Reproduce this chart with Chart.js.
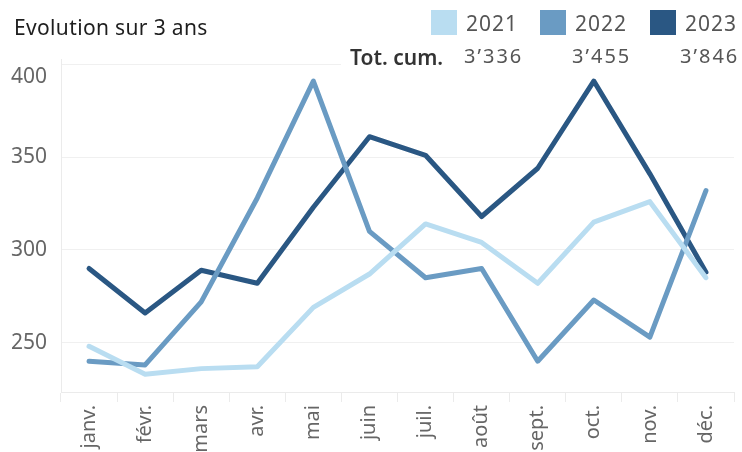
<!DOCTYPE html>
<html>
<head>
<meta charset="utf-8">
<script src="https://cdn.jsdelivr.net/npm/chart.js@4"></script>
<style>
  html, body { margin: 0; padding: 0; background: #fff; }
  #wrap { position: relative; width: 742px; height: 452px; overflow: hidden; font-family: "Noto Sans", sans-serif; }
  canvas { position: absolute; left: 0; top: 0; }
  .t { position: absolute; white-space: nowrap; line-height: 1; }
  #title { left: 14px; top: 17px; font-size: 21px; letter-spacing: 0.35px; color: #1e1e1e; }
  #legbox { position: absolute; left: 341px; top: 0; width: 401px; height: 70px; background: #fff; }
  .sw { position: absolute; top: 10px; width: 26px; height: 25px; }
  .lg { font-size: 21px; letter-spacing: 1px; color: #555; top: 13px; }
  .tot { font-size: 20px; letter-spacing: 2px; color: #555; top: 46px; }
  #totlab { left: 350px; top: 47px; font-size: 21px; color: #333; font-weight: 600; }
</style>
</head>
<body>
<div id="wrap">
  <canvas id="c" width="742" height="452"></canvas>
  <div id="title" class="t">Evolution sur 3 ans</div>
  <div id="legbox"></div>
  <div id="legend"></div>
</div>
<script>
const categories = ["janv.", "févr.", "mars", "avr.", "mai", "juin", "juil.", "août", "sept.", "oct.", "nov.", "déc."];
const years = ["2021", "2022", "2023"];
const values2021 = [248, 233, 236, 237, 269, 287, 314, 304, 282, 315, 326, 285];
const values2022 = [240, 238, 272, 328, 391, 310, 285, 290, 240, 273, 253, 332];
const values2023 = [290, 266, 289, 282, 323, 361, 351, 318, 344, 391, 341, 288];
const totals = ["3’336", "3’455", "3’846"];
const yTicks = [250, 300, 350, 400];
const colors = ["#b9ddf1", "#6a9bc3", "#2a5783"];

// legend (HTML text)
const legend = document.getElementById("legend");
const swLeft = [431, 540, 650];
const lgLeft = [466, 575, 685];
const totLeft = [464, 572, 680];
years.forEach((y, i) => {
  const s = document.createElement("div");
  s.className = "sw"; s.style.left = swLeft[i] + "px"; s.style.background = colors[i];
  legend.appendChild(s);
  const l = document.createElement("div");
  l.className = "t lg"; l.style.left = lgLeft[i] + "px"; l.textContent = y;
  legend.appendChild(l);
  const t = document.createElement("div");
  t.className = "t tot"; t.style.left = totLeft[i] + "px"; t.textContent = totals[i];
  legend.appendChild(t);
});
const tl = document.createElement("div");
tl.id = "totlab"; tl.className = "t"; tl.textContent = "Tot. cum.";
legend.appendChild(tl);

// shift the top y label down (as in the reference, where it sits below its gridline)
const topLabelShift = {
  id: "topLabelShift",
  beforeDraw(chart) {
    const sc = chart.scales.y;
    const items = sc.getLabelItems(chart.chartArea);
    items.forEach(it => {
      if (String(it.label) === String(yTicks[yTicks.length - 1])) {
        it.options.translation[1] += 13;
      }
    });
  }
};

const series = [values2021, values2022, values2023];
new Chart(document.getElementById("c"), {
  type: "line",
  data: {
    labels: categories,
    datasets: series.map((v, i) => ({
      label: years[i],
      data: v,
      borderColor: colors[i],
      backgroundColor: colors[i],
      borderWidth: 5,
      pointRadius: 0,
      tension: 0,
      borderJoinStyle: "round",
      borderCapStyle: "round",
      fill: false
    }))
  },
  plugins: [topLabelShift],
  options: {
    responsive: false,
    animation: false,
    layout: { padding: { left: 0, right: 8, top: 59, bottom: 0 } },
    plugins: { legend: { display: false }, tooltip: { enabled: false } },
    scales: {
      x: {
        type: "category",
        offset: true,
        afterFit: (s) => { s.height = 60; },
        grid: { display: true, offset: true, drawOnChartArea: false, drawTicks: true, tickLength: 10, color: "#ebebeb" },
        border: { display: true, color: "#ebebeb" },
        ticks: { minRotation: 90, maxRotation: 90, autoSkip: false, padding: 3, color: "#666", font: { family: "Noto Sans", size: 20 } }
      },
      y: {
        min: 223.4,
        max: 402.9,
        afterFit: (s) => { s.width = 61; },
        afterBuildTicks: (s) => { s.ticks = yTicks.map(v => ({ value: v })); },
        grid: { color: "#f0f0f0", drawTicks: false, lineWidth: 1 },
        border: { display: true, color: "#ebebeb" },
        ticks: { padding: 14, color: "#666", font: { family: "Noto Sans", size: 21 } }
      }
    }
  }
});
</script>
</body>
</html>
